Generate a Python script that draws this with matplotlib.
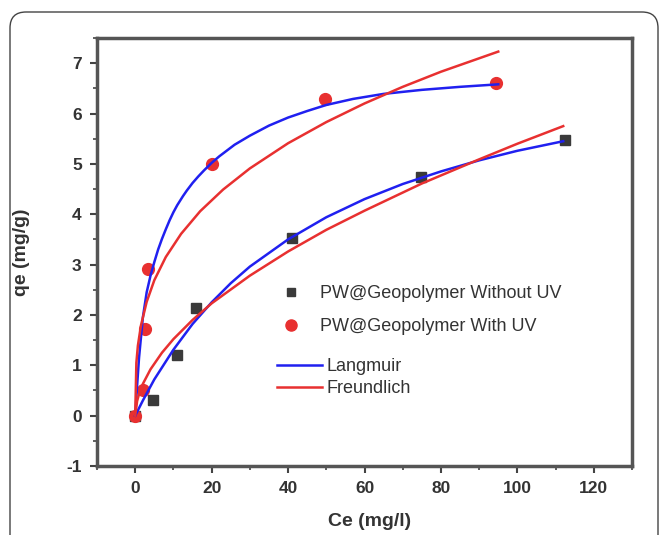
import matplotlib
matplotlib.use('Agg')
import matplotlib.pyplot as plt
from matplotlib.lines import Line2D
from matplotlib.patches import FancyBboxPatch
from matplotlib.ticker import MultipleLocator

plt.rcParams['font.family'] = ['Liberation Sans', 'DejaVu Sans']
plt.rcParams['axes.unicode_minus'] = False

# measured points
ce_no_uv = [0, 4.7, 11, 15.9, 41, 74.7, 112.5]
qe_no_uv = [0, 0.32, 1.2, 2.13, 3.53, 4.73, 5.47]
ce_uv = [0, 2, 2.6, 3.4, 20, 49.6, 94.5]
qe_uv = [0, 0.5, 1.72, 2.91, 4.99, 6.28, 6.6]

# fitted curves
lang_uv_x = [0, 0.5, 1, 2, 3, 4, 5, 6, 7, 8, 9, 10, 11, 12.5, 13.5, 15, 16.5, 18, 20, 22, 26, 30, 35,
             40, 45, 50, 57, 65, 75, 85, 95]
lang_uv_y = [0, 0.6, 1.15, 1.95, 2.45, 2.78, 3.05, 3.3, 3.51, 3.7, 3.88, 4.04, 4.18, 4.36, 4.47, 4.62,
             4.75, 4.87, 5.02, 5.15, 5.38, 5.56, 5.76, 5.92, 6.05, 6.17, 6.29, 6.39, 6.47, 6.53, 6.58]
freund_uv_x = [0, 0.3, 0.7, 1.5, 3, 5, 8, 12, 17, 23, 30, 40, 50, 60, 70, 80, 95]
freund_uv_y = [0, 1.05, 1.39, 1.79, 2.26, 2.69, 3.15, 3.61, 4.06, 4.49, 4.91, 5.41, 5.83, 6.2, 6.53, 6.83, 7.23]
lang_no_uv_x = [0, 2, 5, 10, 15, 20, 25, 30, 40, 50, 60, 70, 80, 90, 100, 112]
lang_no_uv_y = [0, 0.30, 0.72, 1.31, 1.82, 2.25, 2.63, 2.96, 3.50, 3.94, 4.30, 4.60, 4.85, 5.07, 5.26, 5.45]
freund_no_uv_x = [0, 0.5, 1, 2, 4, 7, 10, 15, 20, 30, 40, 50, 60, 75, 90, 100, 112]
freund_no_uv_y = [0, 0.29, 0.43, 0.63, 0.92, 1.25, 1.52, 1.90, 2.23, 2.78, 3.26, 3.69, 4.07, 4.61, 5.09, 5.40, 5.75]

W, H = 662, 535
fig = plt.figure(figsize=(W / 100, H / 100), dpi=100)

# rounded frame around the figure
frame = FancyBboxPatch((0.10, -0.3), 6.48, 5.35 - 0.12 + 0.3,
                       boxstyle="round,pad=0,rounding_size=0.16",
                       transform=fig.dpi_scale_trans, fill=False,
                       edgecolor='#444444', linewidth=1.0)
fig.patches.append(frame)

ax = fig.add_axes([97 / W, 1 - 466 / H, (632 - 97) / W, (466 - 38) / H])

blue = '#2020f0'
red = '#e83030'

ax.plot(lang_uv_x, lang_uv_y, color=blue, lw=1.8, zorder=4)
ax.plot(freund_uv_x, freund_uv_y, color=red, lw=1.8, zorder=4)
ax.plot(lang_no_uv_x, lang_no_uv_y, color=blue, lw=1.8, zorder=4)
ax.plot(freund_no_uv_x, freund_no_uv_y, color=red, lw=1.8, zorder=4)

ax.plot(ce_no_uv, qe_no_uv, 's', color='#3a3a3a', ms=7, zorder=3)
ax.plot(ce_uv, qe_uv, 'o', color=red, ms=8.5, zorder=3)

ax.set_xlim(-10, 130)
ax.set_ylim(-1, 7.5)
ax.xaxis.set_major_locator(MultipleLocator(20))
ax.xaxis.set_minor_locator(MultipleLocator(10))
ax.yaxis.set_major_locator(MultipleLocator(1))
ax.yaxis.set_minor_locator(MultipleLocator(0.5))
ax.set_xticks(range(0, 121, 20))
ax.tick_params(which='major', direction='out', length=5, width=1.5, colors='#444444',
               labelsize=12.5, labelcolor='#333333', pad=6)
ax.tick_params(which='minor', direction='out', length=3, width=1.2, colors='#444444')
for lab in ax.get_xticklabels() + ax.get_yticklabels():
    lab.set_fontweight('bold')
for s in ax.spines.values():
    s.set_linewidth(2.5)
    s.set_color('#555555')

fig.text(22 / W, 1 - 252 / H, 'qe (mg/g)', rotation=90, ha='center', va='center',
         fontsize=14, fontweight='bold', color='#333333')
fig.text(370 / W, 1 - 522 / H, 'Ce (mg/l)', ha='center', va='center',
         fontsize=14, fontweight='bold', color='#333333')

h1 = [Line2D([], [], ls='none', marker='s', color='#3a3a3a', ms=6),
      Line2D([], [], ls='none', marker='o', color=red, ms=8)]
leg1 = ax.legend(h1, ['PW@Geopolymer Without UV', 'PW@Geopolymer With UV'],
                 loc='upper left', bbox_to_anchor=(282 / W, 1 - 285 / H),
                 bbox_transform=fig.transFigure, frameon=False, fontsize=13,
                 handlelength=1.0, handletextpad=1.1, labelspacing=0.89,
                 borderpad=0, borderaxespad=0, labelcolor='#333333')
ax.add_artist(leg1)
h2 = [Line2D([], [], color=blue, lw=1.8), Line2D([], [], color=red, lw=1.8)]
ax.legend(h2, ['Langmuir', 'Freundlich'], loc='upper left',
          bbox_to_anchor=(277 / W, 1 - 358 / H), bbox_transform=fig.transFigure,
          frameon=False, fontsize=13, handlelength=2.5, handletextpad=0.22,
          labelspacing=0.28, borderpad=0, borderaxespad=0, labelcolor='#333333')

fig.savefig('out.png', dpi=100)
